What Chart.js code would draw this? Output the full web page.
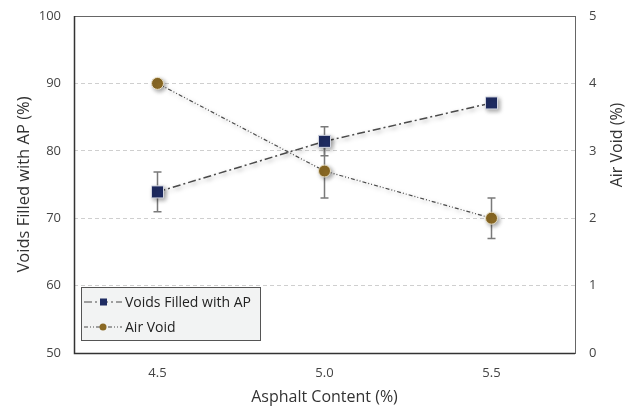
<!DOCTYPE html>
<html>
<head>
<meta charset="utf-8">
<script src="https://cdn.jsdelivr.net/npm/chart.js@4.4.0/dist/chart.umd.min.js"></script>
<style>
  html, body { margin: 0; padding: 0; background: #fff; }
  #wrap { width: 629px; height: 407px; position: relative; }
</style>
</head>
<body>
<div id="wrap"><canvas id="chart"></canvas></div>
<script>
// data
const asphaltContent = ["4.5", "5.0", "5.5"];
const vfa = [73.9, 81.4, 87.1];
const vfaErr = [2.95, 2.15, 0.75];
const airVoid = [4.0, 2.7, 2.0];
const airVoidErr = [0, 0.4, 0.3];
const rightTitle = "Air Void (%)";

const FONT = "'Open Sans', 'DejaVu Sans', sans-serif";

// error bars behind the markers, shadow on lines + markers
const errorBars = {
    id: "errorBars",
    beforeDatasetsDraw(chart) {
        const c = chart.ctx;
        const x = chart.scales.x;
        c.save();
        c.strokeStyle = "#7a7a7a";
        c.lineWidth = 1.5;
        const sets = [[vfa, vfaErr, chart.scales.y], [airVoid, airVoidErr, chart.scales.y1]];
        sets.forEach(([vals, errs, sc]) => {
            vals.forEach((v, i) => {
                if (!errs[i]) return;
                const px = x.getPixelForValue(i);
                const top = sc.getPixelForValue(v + errs[i]);
                const bot = sc.getPixelForValue(v - errs[i]);
                c.beginPath();
                c.moveTo(px, top); c.lineTo(px, bot);
                c.moveTo(px - 4, top); c.lineTo(px + 4, top);
                c.moveTo(px - 4, bot); c.lineTo(px + 4, bot);
                c.stroke();
            });
        });
        c.restore();
        chart.ctx.save();
        chart.ctx.shadowColor = "rgba(0,0,0,0.35)";
        chart.ctx.shadowBlur = 4;
        chart.ctx.shadowOffsetX = 2;
        chart.ctx.shadowOffsetY = 2;
    },
    afterDatasetsDraw(chart) {
        chart.ctx.restore();
    }
};

const frameAndLegend = {
    id: "frameAndLegend",
    afterDraw(chart) {
        const c = chart.ctx;
        const a = chart.chartArea;
        c.save();
        c.strokeStyle = "#666";
        c.lineWidth = 1;
        c.strokeRect(a.left + 0.5, a.top + 0.5, a.right - a.left, a.bottom - a.top);
        c.strokeStyle = "#333";
        c.lineWidth = 1.5;
        c.beginPath();
        c.moveTo(a.left + 0.5, a.top);
        c.lineTo(a.left + 0.5, a.bottom + 0.5);
        c.lineTo(a.right, a.bottom + 0.5);
        c.stroke();

        // right axis title, reading bottom to top like the left one
        c.save();
        c.translate(617, 145);
        c.rotate(-Math.PI / 2);
        c.fillStyle = "#333";
        c.font = "16px " + FONT;
        c.textAlign = "center";
        c.textBaseline = "middle";
        c.fillText(rightTitle, 0, 0);
        c.restore();

        // legend box
        const lx = a.left + 7, ly = 287, lw = 179, lh = 53;
        c.fillStyle = "#f2f3f3";
        c.fillRect(lx, ly, lw, lh);
        c.strokeStyle = "#555";
        c.lineWidth = 1;
        c.strokeRect(lx + 0.5, ly + 0.5, lw, lh);

        const rows = [
            { ds: chart.data.datasets[0], y: ly + 15 },
            { ds: chart.data.datasets[1], y: ly + 40 }
        ];
        rows.forEach(r => {
            c.save();
            c.strokeStyle = r.ds.borderColor;
            c.lineWidth = 1.2;
            c.setLineDash(r.ds.borderDash);
            c.beginPath();
            c.moveTo(lx + 3, r.y);
            c.lineTo(lx + 41, r.y);
            c.stroke();
            c.restore();
            c.fillStyle = r.ds.pointBackgroundColor;
            if (r.ds.pointStyle === "rect") {
                c.fillRect(lx + 19, r.y - 3.5, 7, 7);
            } else {
                c.beginPath();
                c.arc(lx + 22, r.y, 3.5, 0, Math.PI * 2);
                c.fill();
            }
            c.fillStyle = "#222";
            c.font = "14px " + FONT;
            c.textBaseline = "middle";
            c.fillText(r.ds.label, lx + 44, r.y + 1);
        });
        c.restore();
    }
};

function noPad(s) {
    s.paddingTop = 0;
    s.paddingBottom = 0;
}

new Chart(document.getElementById("chart"), {
    type: "line",
    data: {
        labels: asphaltContent,
        datasets: [{
            label: "Voids Filled with AP",
            data: vfa,
            yAxisID: "y",
            borderColor: "#4a4a4a",
            borderWidth: 1.5,
            borderDash: [8, 3, 2, 3],
            pointStyle: "rect",
            pointRadius: 8.5,
            pointBackgroundColor: "#1f2c62",
            pointBorderColor: "#d4d7e2",
            pointBorderWidth: 1,
            tension: 0
        }, {
            label: "Air Void",
            data: airVoid,
            yAxisID: "y1",
            borderColor: "#4a4a4a",
            borderWidth: 1.2,
            borderDash: [4, 2, 1, 2, 1, 2],
            pointStyle: "circle",
            pointRadius: 6,
            pointBackgroundColor: "#8a6924",
            pointBorderColor: "#e8e0c8",
            pointBorderWidth: 1,
            tension: 0
        }]
    },
    options: {
        responsive: true,
        maintainAspectRatio: false,
        animation: false,
        layout: { padding: { top: 16, left: 0, right: 0, bottom: 0 } },
        plugins: {
            legend: { display: false },
            tooltip: { enabled: false }
        },
        scales: {
            x: {
                type: "category",
                offset: true,
                grid: { display: false, drawTicks: false },
                border: { display: false },
                ticks: { color: "#444", font: { family: FONT, size: 13 }, padding: 12 },
                title: {
                    display: true, text: "Asphalt Content (%)", color: "#333",
                    font: { family: FONT, size: 16 }, padding: { top: 0, bottom: 0 }
                },
                afterFit(s) { s.height = 54; }
            },
            y: {
                position: "left",
                min: 50, max: 100,
                ticks: { stepSize: 10, color: "#444", font: { family: FONT, size: 13 }, padding: 13 },
                grid: {
                    drawTicks: false, color: "#cfcfcf", lineWidth: 1
                },
                border: { display: false, dash: [4, 3] },
                title: {
                    display: true, text: "Voids Filled with AP (%)", color: "#333",
                    font: { family: FONT, size: 16.5 }, padding: { top: 14, bottom: 0 }
                },
                afterFit(s) { s.width = 74; noPad(s); }
            },
            y1: {
                position: "right",
                min: 0, max: 5,
                ticks: { stepSize: 1, color: "#444", font: { family: FONT, size: 13 }, padding: 14 },
                grid: { display: false, drawTicks: false },
                border: { display: false },
                afterFit(s) { s.width = 54; noPad(s); }
            }
        }
    },
    plugins: [errorBars, frameAndLegend]
});
</script>
</body>
</html>
